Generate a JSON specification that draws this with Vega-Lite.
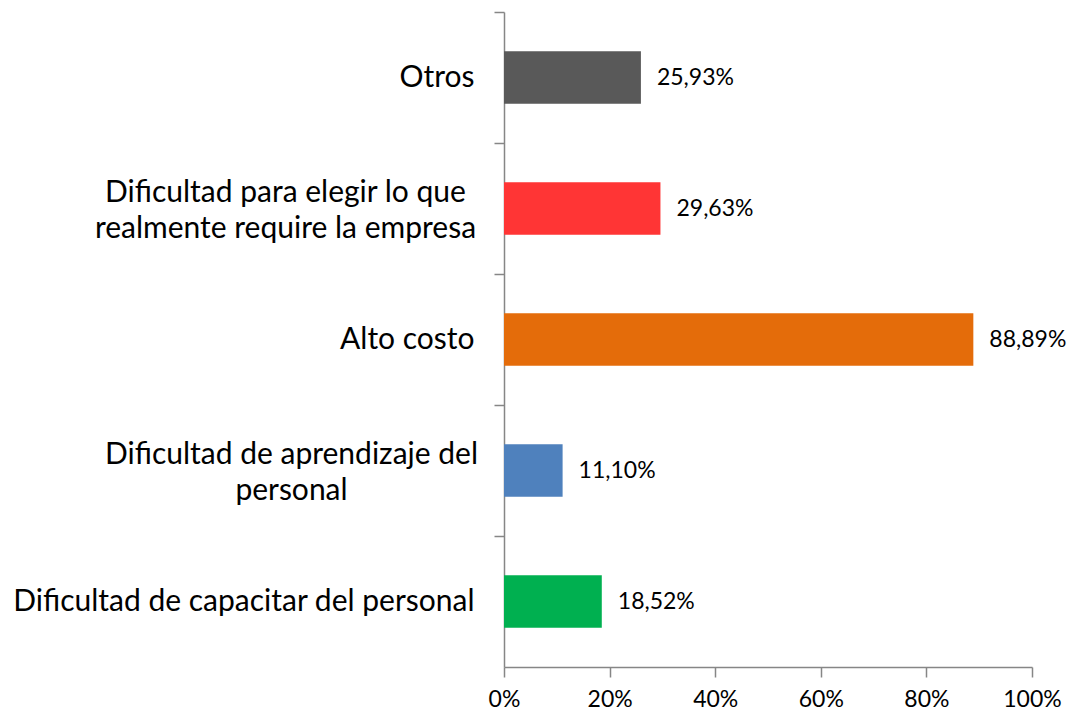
{
  "$schema": "https://vega.github.io/schema/vega-lite/v6.json",
  "width": 528,
  "height": 655,
  "autosize": "none",
  "padding": {"left": 504, "top": 12, "right": 44, "bottom": 47},
  "background": "white",
  "config": {
    "view": {"stroke": null},
    "locale": {"number": {"decimal": ",", "thousands": ".", "grouping": [3], "currency": ["", " €"]}},
    "axis": {"grid": false, "domainColor": "#868686", "tickColor": "#868686", "domainWidth": 1.5, "tickWidth": 1.5, "tickSize": 10, "labelColor": "black", "labelFont": "Lato", "title": null}
  },
  "data": {
    "values": [
      {"categoria": "Otros", "valor": 0.2593},
      {"categoria": "Dificultad para elegir lo que realmente require la empresa", "valor": 0.2963},
      {"categoria": "Alto costo", "valor": 0.8889},
      {"categoria": "Dificultad de aprendizaje del personal", "valor": 0.1110},
      {"categoria": "Dificultad de capacitar del personal", "valor": 0.1852}
    ]
  },
  "encoding": {
    "y": {
      "field": "categoria", "type": "nominal", "sort": null,
      "scale": {"paddingInner": 0.6, "paddingOuter": 0.3},
      "axis": {
        "tickOffset": -65.5,
        "labelFontSize": 30,
        "labelLimit": 0,
        "labelLineHeight": 36,
        "labelExpr": "datum.value == 'Dificultad para elegir lo que realmente require la empresa' ? ['Dificultad para elegir lo que', 'realmente require la empresa'] : datum.value == 'Dificultad de aprendizaje del personal' ? ['Dificultad de aprendizaje del', 'personal'] : datum.value",
        "labelAlign": {"condition": {"test": "datum.value == 'Dificultad para elegir lo que realmente require la empresa' || datum.value == 'Dificultad de aprendizaje del personal'", "value": "center"}, "value": "right"},
        "labelOffset": {"condition": {"test": "datum.value == 'Dificultad para elegir lo que realmente require la empresa' || datum.value == 'Dificultad de aprendizaje del personal'", "value": 49}, "value": 65.5},
        "labelPadding": {"condition": [{"test": "datum.value == 'Dificultad para elegir lo que realmente require la empresa'", "value": 209}, {"test": "datum.value == 'Dificultad de aprendizaje del personal'", "value": 203}], "value": 20}
      }
    },
    "x": {
      "field": "valor", "type": "quantitative",
      "scale": {"domain": [0, 1]},
      "axis": {"format": ".0%", "values": [0, 0.2, 0.4, 0.6, 0.8, 1], "labelFontSize": 23, "labelPadding": 11, "labelFlush": false}
    }
  },
  "layer": [
    {
      "mark": {"type": "bar"},
      "encoding": {
        "color": {
          "field": "categoria", "type": "nominal", "legend": null,
          "scale": {
            "domain": ["Otros", "Dificultad para elegir lo que realmente require la empresa", "Alto costo", "Dificultad de aprendizaje del personal", "Dificultad de capacitar del personal"],
            "range": ["#595959", "#FF3535", "#E46C0A", "#4F81BD", "#00B050"]
          }
        }
      }
    },
    {
      "mark": {"type": "text", "align": "left", "dx": 16, "font": "Lato", "fontSize": 23, "color": "black"},
      "encoding": {"text": {"field": "valor", "type": "quantitative", "format": ".2%"}}
    }
  ]
}
